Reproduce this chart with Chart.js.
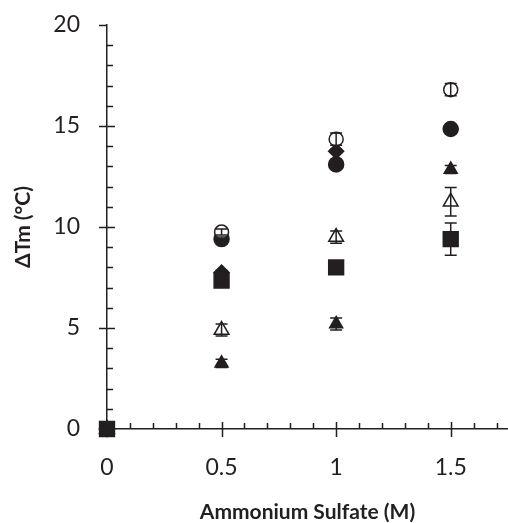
<!DOCTYPE html>
<html>
<head>
<meta charset="utf-8">
<script src="https://cdn.jsdelivr.net/npm/chart.js@4/dist/chart.umd.min.js"></script>
<style>
  html, body { margin: 0; padding: 0; background: #fff; }
  #wrap { width: 508px; height: 523px; position: relative; }
</style>
</head>
<body>
<div id="wrap"><canvas id="chart"></canvas></div>
<script>
// concentrations (M)
const conc = [0, 0.5, 1, 1.5];

// delta Tm per series, with error bars
const openCircle = [0, 9.75, 14.35, 16.8];
const openCircleErr = [0, 0.15, 0.3, 0.3];
const filledCircle = [0, 9.4, 13.1, 14.85];
const filledCircleErr = [0, 0.1, 0.1, 0.1];
const diamond = [0, 7.75, 13.75];
const diamondErr = [0, 0.1, 0.1];
const square = [0, 7.35, 8.0, 9.4];
const squareErr = [0, 0.1, 0.1, 0.8];
const openTriangle = [0, 4.9, 9.5, 11.25];
const openTriangleErr = [0, 0.3, 0.3, 0.7];
const filledTriangle = [0, 3.25, 5.2, 12.85];
const filledTriangleErr = [0, 0.2, 0.3, 0.2];

const yTicks = [0, 5, 10, 15, 20];
const xTicks = [0, 0.5, 1, 1.5];

const ink = "#231f20";

function pts(ys) {
    return ys.map((y, i) => ({ x: conc[i], y: y }))
}

function mk(label, ys, errs, style, radius, filled) {
    return {
        label: label,
        data: pts(ys),
        errors: errs,
        pointStyle: style,
        pointRadius: radius,
        pointHoverRadius: radius,
        borderWidth: 1.5,
        borderColor: ink,
        backgroundColor: filled ? ink : "#fff",
        showLine: false,
        clip: false
    }
}

// draws error bars on top of the markers
const errorBars = {
    id: "errorBars",
    afterDatasetsDraw(chart) {
        const ctx = chart.ctx
        const ys = chart.scales.y
        const xs = chart.scales.x
        ctx.save()
        ctx.strokeStyle = ink
        ctx.lineWidth = 1.5
        chart.data.datasets.forEach((ds) => {
            ds.data.forEach((p, i) => {
                const e = ds.errors[i]
                if (!e) return
                const px = xs.getPixelForValue(p.x)
                const top = ys.getPixelForValue(p.y + e)
                const bot = ys.getPixelForValue(p.y - e)
                ctx.beginPath()
                ctx.moveTo(px, top); ctx.lineTo(px, bot)
                ctx.moveTo(px - 6, top); ctx.lineTo(px + 6, top)
                ctx.moveTo(px - 6, bot); ctx.lineTo(px + 6, bot)
                ctx.stroke()
            })
        })
        ctx.restore()
    }
}

// major ticks cross the axis, minor ticks point inward
const axisTicks = {
    id: "axisTicks",
    beforeDatasetsDraw(chart) {
        const ctx = chart.ctx
        const xs = chart.scales.x
        const ys = chart.scales.y
        const a = chart.chartArea
        ctx.save()
        ctx.strokeStyle = ink
        ctx.lineWidth = 1.5
        ctx.beginPath()
        for (let v = 1; v < 20; v++) {
            const py = Math.round(ys.getPixelForValue(v)) + 0.5
            if (v % 5 == 0) {
                ctx.moveTo(a.left - 8, py); ctx.lineTo(a.left + 8, py)
            } else {
                ctx.moveTo(a.left, py); ctx.lineTo(a.left + 6, py)
            }
        }
        ctx.moveTo(a.left - 8, a.top + 0.5); ctx.lineTo(a.left, a.top + 0.5)
        for (let k = 1; k <= 17; k++) {
            const px = Math.round(xs.getPixelForValue(k / 10)) + 0.5
            if (k % 5 == 0) {
                ctx.moveTo(px, a.bottom - 7); ctx.lineTo(px, a.bottom + 8)
            } else {
                ctx.moveTo(px, a.bottom); ctx.lineTo(px, a.bottom - 6)
            }
        }
        ctx.stroke()
        ctx.restore()
    }
}

const font = { family: "Lato, sans-serif", size: 23 }
const titleFont = { family: "Lato, sans-serif", size: 21, weight: "bold" }

// first dataset is drawn on top, so the square covers the origin
new Chart(document.getElementById("chart"), {
    type: "scatter",
    data: {
        datasets: [
            mk("square", square, squareErr, "rect", 10.5, true),
            mk("open circle", openCircle, openCircleErr, "circle", 7, false),
            mk("filled circle", filledCircle, filledCircleErr, "circle", 7.5, true),
            mk("diamond", diamond, diamondErr, "rectRot", 7.5, true),
            mk("open triangle", openTriangle, openTriangleErr, "triangle", 8.5, false),
            mk("filled triangle", filledTriangle, filledTriangleErr, "triangle", 7.5, true)
        ]
    },
    options: {
        responsive: true,
        maintainAspectRatio: false,
        animation: false,
        layout: { autoPadding: false, padding: { top: 25, right: 0, left: 0, bottom: 0 } },
        plugins: {
            legend: { display: false },
            tooltip: { enabled: false }
        },
        scales: {
            x: {
                type: "linear",
                min: 0,
                max: 1.75,
                grid: { display: false, drawTicks: false },
                border: { display: true, color: ink, width: 1.5 },
                afterBuildTicks: (s) => { s.ticks = xTicks.map(v => ({ value: v })) },
                afterFit: (s) => { s.height = 94; s.paddingRight = 0; s.paddingLeft = 0 },
                ticks: { color: ink, font: font, padding: 25, maxRotation: 0, callback: (v) => String(v) },
                title: {
                    display: true,
                    text: "Ammonium Sulfate (M)",
                    color: ink,
                    font: titleFont,
                    padding: { top: 0, bottom: -2 }
                }
            },
            y: {
                min: 0,
                max: 20,
                grid: { display: false, drawTicks: false },
                border: { display: true, color: ink, width: 1.5 },
                afterBuildTicks: (s) => { s.ticks = yTicks.map(v => ({ value: v })) },
                afterFit: (s) => { s.width = 107; s.paddingTop = 0; s.paddingBottom = 0 },
                ticks: { color: ink, font: font, padding: 27 },
                title: {
                    display: true,
                    text: "ΔTm (°C)",
                    color: ink,
                    font: titleFont,
                    padding: { top: 11, bottom: 0 }
                }
            }
        }
    },
    plugins: [axisTicks, errorBars]
})
</script>
</body>
</html>
